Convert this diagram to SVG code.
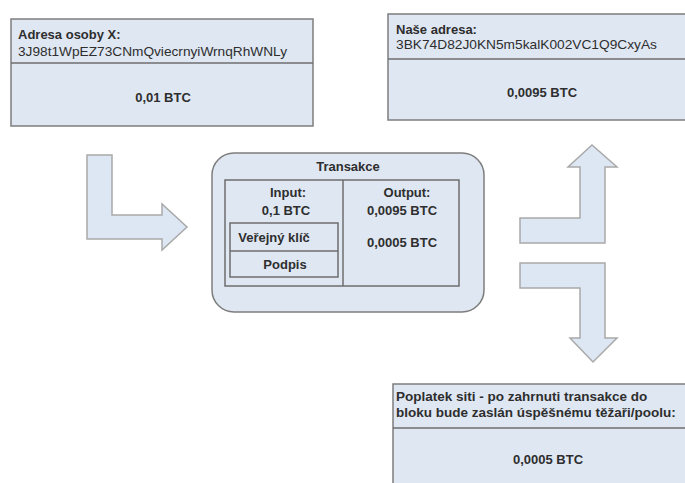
<svg xmlns="http://www.w3.org/2000/svg" width="685" height="483" viewBox="0 0 685 483">
<style>
.box{fill:#dfe7f3;stroke:#7d7d7d;stroke-width:1.5}
.ln{stroke:#6e6e6e;stroke-width:1.5;fill:none}
.arr{fill:#dde7f4;stroke:#a9a9a9;stroke-width:1.5;stroke-linejoin:miter}
text{font-family:"Liberation Sans",Arial,sans-serif;fill:#2e2e2e}
.b{font-weight:bold}
.c{text-anchor:middle}
</style>
<rect width="685" height="483" fill="#ffffff"/>
<g id="sender">
<rect class="box" x="11" y="19" width="302" height="107"/>
<line class="ln" x1="11" y1="63" x2="313" y2="63"/>
<text class="b" x="18" y="39" font-size="13">Adresa osoby X:</text>
<text x="18" y="56" font-size="13" textLength="269" lengthAdjust="spacingAndGlyphs">3J98t1WpEZ73CNmQviecrnyiWrnqRhWNLy</text>
<text class="b c" x="163" y="102" font-size="13">0,01 BTC</text>
</g>
<g id="our-address">
<rect class="box" x="388" y="14" width="305" height="106"/>
<line class="ln" x1="388" y1="59" x2="685" y2="59"/>
<text class="b" x="396" y="34" font-size="13">Naše adresa:</text>
<text x="396" y="49" font-size="13" textLength="261" lengthAdjust="spacingAndGlyphs">3BK74D82J0KN5m5kalK002VC1Q9CxyAs</text>
<text class="b c" x="542" y="97" font-size="13">0,0095 BTC</text>
</g>
<g id="fee">
<rect class="box" x="393" y="384" width="300" height="110"/>
<line class="ln" x1="393" y1="428" x2="685" y2="428"/>
<text class="b" x="396" y="401" font-size="13.5">Poplatek siti - po zahrnuti transakce do</text>
<text class="b" x="396" y="417" font-size="13.5">bloku bude zaslán úspěšnému těžaři/poolu:</text>
<text class="b c" x="548" y="464" font-size="13">0,0005 BTC</text>
</g>
<g id="transaction">
<rect class="box" x="212" y="153" width="272" height="159" rx="22" ry="22"/>
<text class="b c" x="348" y="171" font-size="13">Transakce</text>
<rect class="ln" x="225" y="180" width="234" height="106"/>
<line class="ln" x1="343" y1="180" x2="343" y2="286"/>
<rect class="ln" x="230" y="223" width="108" height="54"/>
<line class="ln" x1="230" y1="251" x2="338" y2="251"/>
<text class="b c" x="288" y="197" font-size="13">Input:</text>
<text class="b c" x="286" y="215" font-size="13">0,1 BTC</text>
<text class="b c" x="274" y="242" font-size="13">Veřejný klíč</text>
<text class="b c" x="285" y="269" font-size="13">Podpis</text>
<text class="b c" x="407" y="197" font-size="13">Output:</text>
<text class="b c" x="402" y="215" font-size="13">0,0095 BTC</text>
<text class="b c" x="402" y="247" font-size="13">0,0005 BTC</text>
</g>
<g id="connectors">
<polygon class="arr" points="87,155 112,155 112,215 162,215 162,204 187,227 162,250 162,239 87,239"/>
<polygon class="arr" points="520,218 580,218 580,167 568,167 592,145 617,167 605,167 605,243 520,243"/>
<polygon class="arr" points="520,263 605,263 605,338 617,338 593,362 570,338 580,338 580,288 520,288"/>
</g>
</svg>
